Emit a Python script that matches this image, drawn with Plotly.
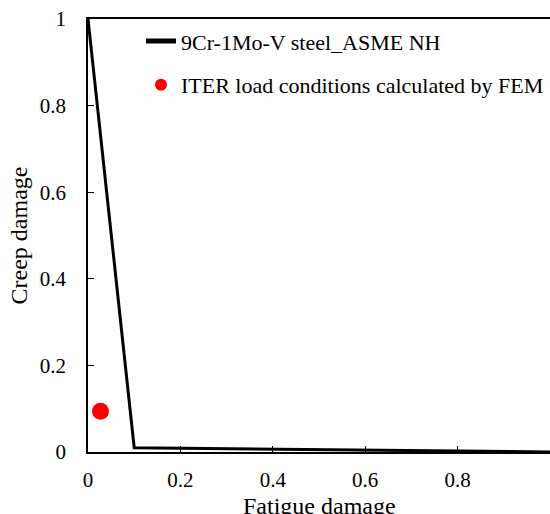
import plotly.graph_objects as go

# ASME NH creep-fatigue envelope for 9Cr-1Mo-V steel
envelope_fatigue = [0.0, 0.1, 1.0]
envelope_creep = [1.0, 0.01, 0.0]

# ITER load condition from FEM
iter_fatigue = [0.027]
iter_creep = [0.094]

tick_vals = [0, 0.2, 0.4, 0.6, 0.8, 1]
tick_text = ["0", "0.2", "0.4", "0.6", "0.8", "1"]

FONT = "Liberation Serif"

fig = go.Figure()

fig.add_trace(go.Scatter(
    x=envelope_fatigue,
    y=envelope_creep,
    mode="lines",
    name="9Cr-1Mo-V steel_ASME NH",
    line=dict(color="black", width=3),
    legendgroup="a",
    cliponaxis=False,
))

fig.add_trace(go.Scatter(
    x=iter_fatigue,
    y=iter_creep,
    mode="markers",
    name="ITER load conditions calculated by FEM",
    marker=dict(color="#ff0000", size=17),
    legendgroup="b",
))

axis_common = dict(
    range=[0, 1],
    tickvals=tick_vals,
    ticktext=tick_text,
    ticks="inside",
    ticklen=6,
    tickwidth=1,
    tickcolor="black",
    showline=True,
    linecolor="black",
    linewidth=1.5,
    showgrid=False,
    zeroline=False,
    automargin=False,
    tickfont=dict(family=FONT, size=21, color="black"),
)

fig.update_layout(
    xaxis=dict(
        **axis_common,
        mirror=True,
        ticklabelstandoff=8,
    ),
    yaxis=dict(
        **axis_common,
        ticklabelstandoff=16,
        title=dict(text="Creep damage", font=dict(family=FONT, size=24, color="black"), standoff=5),
    ),
)

# x title as an annotation: axis title standoff is ignored with automargin off
fig.add_annotation(
    text="Fatigue damage",
    x=0.5, y=0, xref="paper", yref="paper",
    xanchor="center", yanchor="middle",
    yshift=-54,
    showarrow=False,
    font=dict(family=FONT, size=24, color="black"),
)

fig.update_layout(
    template="none",
    width=550,
    height=514,
    margin=dict(l=88, r=0, t=19, b=62),
    plot_bgcolor="white",
    paper_bgcolor="white",
    font=dict(family=FONT, size=22, color="black"),
    showlegend=True,
    legend=dict(
        x=0.1147, y=0.997, xanchor="left", yanchor="top",
        bgcolor="rgba(0,0,0,0)",
        tracegroupgap=12,
        itemsizing="constant",
        font=dict(family=FONT, size=22, color="black"),
    ),
)

# page body has a default 8px margin; remove it so the figure sits at the corner
fig.write_html("out.html", config={"displayModeBar": False},
               post_script="document.body.style.margin='0';")
